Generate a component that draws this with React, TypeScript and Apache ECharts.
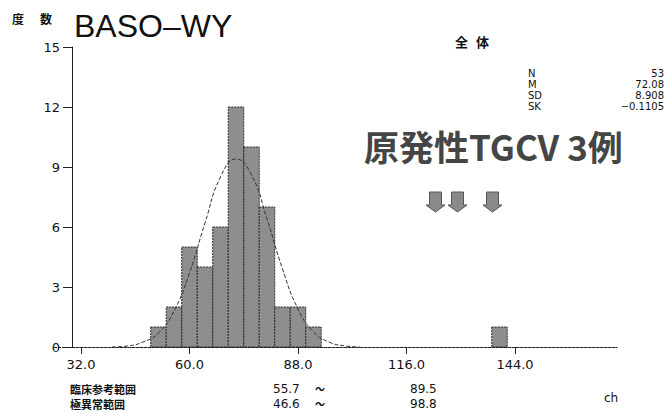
import React, { useEffect, useRef } from "react";
import * as echarts from "echarts";

// Histogram bins (ch) and counts
const binStarts = [50, 54, 58, 62, 66, 70, 74, 78, 82, 86, 90, 138];
const binEnds = [54, 58, 62, 66, 70, 74, 78, 82, 86, 90, 94, 142];
const binCounts = [1, 2, 5, 4, 6, 12, 10, 7, 2, 2, 1, 1];

// Fitted curve
const curveX = [40, 44, 48, 52, 56, 60, 64, 68, 72, 76, 80, 84, 88, 92, 96, 100, 104];
const curveY = [0.0, 0.05, 0.25, 0.7, 1.8, 3.7, 6.2, 8.5, 9.4, 8.6, 6.4, 3.9, 1.9, 0.75, 0.25, 0.06, 0.0];

const xTicks = [32, 60, 88, 116, 144];
const yTicks = [0, 3, 6, 9, 12, 15];

const statLabels = ["N", "M", "SD", "SK"];
const statValues = ["53", "72.08", "8.908", "\u22120.1105"];

const rangeLabels = ["臨床参考範囲", "極異常範囲"];
const rangeLow = ["55.7", "46.6"];
const rangeHigh = ["89.5", "98.8"];

export default function App() {
  const ref = useRef<HTMLDivElement>(null);

  useEffect(() => {
    document.body.style.margin = "0";
    if (!ref.current) return;
    const chart = echarts.init(ref.current, null, { renderer: "svg" });

    const barData = binStarts.map((s, i) => [s, binEnds[i], binCounts[i]]);
    const curveData = curveX.map((x, i) => [x, curveY[i]]);

    const txt = "Liberation Sans, Arial, sans-serif";
    const num = "DejaVu Sans";
    const cjk = "'Noto Sans CJK JP'";
    const graphics: any[] = [
      { type: "text", left: 12, top: 12, style: { text: "度", font: `bold 12px ${cjk}`, fill: "#111" } },
      { type: "text", left: 40, top: 12, style: { text: "数", font: `bold 12px ${cjk}`, fill: "#111" } },
      { type: "text", left: 74, top: 10, style: { text: "BASO–WY", font: `32px ${txt}`, fill: "#111" } },
      { type: "text", left: 455, top: 35, style: { text: "全", font: `bold 13px ${cjk}`, fill: "#111" } },
      { type: "text", left: 476, top: 35, style: { text: "体", font: `bold 13px ${cjk}`, fill: "#111" } },
      {
        type: "text",
        left: 364,
        top: 128,
        style: { text: "原発性TGCV 3例", font: `bold 35px ${cjk}`, fill: "#454545" },
      },
      { type: "text", left: 604, top: 392, style: { text: "ch", font: `12px ${num}`, fill: "#111" } },
      {
        type: "line",
        shape: { x1: 54, y1: 347.5, x2: 72, y2: 347.5 },
        style: { stroke: "#222", lineWidth: 1, lineDash: [3, 1] },
      },
    ];

    statLabels.forEach((s, i) => {
      const y = 68 + i * 11;
      graphics.push({
        type: "text",
        left: 528,
        top: y,
        style: { text: s, font: `10px ${num}`, fill: "#111", lineHeight: 10 },
      });
      graphics.push({
        type: "text",
        right: 1,
        top: y,
        style: { text: statValues[i], font: `10px ${num}`, fill: "#111", textAlign: "right", lineHeight: 10 },
      });
    });

    rangeLabels.forEach((s, i) => {
      const y = 383 + i * 15;
      graphics.push({
        type: "text",
        left: 70,
        top: y,
        style: { text: s, font: `bold 11px ${cjk}`, fill: "#111", lineHeight: 11 },
      });
      graphics.push({
        type: "text",
        left: 273,
        top: y,
        style: { text: rangeLow[i], font: `12px ${num}`, fill: "#111", lineHeight: 11 },
      });
      graphics.push({
        type: "text",
        left: 315,
        top: y,
        style: { text: "〜", font: `bold 10px ${cjk}`, fill: "#111", lineHeight: 10 },
      });
      graphics.push({
        type: "text",
        left: 410,
        top: y,
        style: { text: rangeHigh[i], font: `12px ${num}`, fill: "#111", lineHeight: 11 },
      });
    });

    // three down arrows
    [435.5, 457.5, 492.5].forEach((cx) => {
      graphics.push({
        type: "polygon",
        shape: {
          points: [
            [cx - 6, 192],
            [cx + 6, 192],
            [cx + 6, 205],
            [cx + 9.5, 205],
            [cx, 212],
            [cx - 9.5, 205],
            [cx - 6, 205],
          ],
        },
        style: { fill: "#8a8a8a", stroke: "#555", lineWidth: 1 },
      });
    });

    chart.setOption({
      animation: false,
      backgroundColor: "#fff",
      grid: { left: 72, right: 48, top: 47, bottom: 66 },
      xAxis: {
        type: "value",
        min: 29.68,
        max: 170.32,
        splitLine: { show: false },
        axisLine: { show: true, lineStyle: { color: "#222", width: 1, type: [3, 1] } },
        axisTick: { show: true, length: 7, lineStyle: { color: "#222" }, customValues: xTicks },
        axisLabel: {
          show: true,
          customValues: xTicks,
          margin: 11,
          fontSize: 13,
          fontFamily: num,
          color: "#111",
          formatter: (v: number) => v.toFixed(1),
        },
      },
      yAxis: {
        type: "value",
        min: 0,
        max: 15,
        interval: 3,
        splitLine: { show: false },
        axisLine: { show: true, lineStyle: { color: "#222", width: 1 } },
        axisTick: { show: true, length: 9, lineStyle: { color: "#222" } },
        axisLabel: {
          margin: 12,
          fontSize: 13,
          fontFamily: num,
          color: "#111",
          customValues: yTicks,
        },
      },
      series: [
        {
          type: "custom",
          data: barData,
          encode: { x: [0, 1], y: 2 },
          renderItem: (params: any, api: any) => {
            const p0 = api.coord([api.value(0), api.value(2)]);
            const p1 = api.coord([api.value(1), 0]);
            return {
              type: "rect",
              shape: { x: p0[0], y: p0[1], width: p1[0] - p0[0], height: p1[1] - p0[1] },
              style: { fill: "#8e8e8e", stroke: "#2a2a2a", lineWidth: 1, lineDash: [2, 1] },
            };
          },
          z: 2,
        },
        {
          type: "line",
          data: curveData,
          smooth: true,
          showSymbol: false,
          symbol: "none",
          lineStyle: { color: "#333", width: 1, type: [4, 2] },
          z: 3,
        },
      ],
      graphic: graphics,
    });

    return () => chart.dispose();
  }, []);

  return <div ref={ref} style={{ width: 665, height: 413 }} />;
}
